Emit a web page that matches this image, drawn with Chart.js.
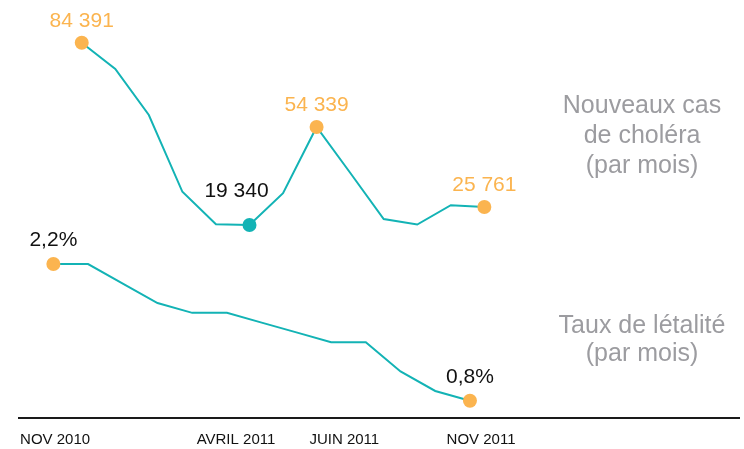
<!DOCTYPE html>
<html>
<head>
<meta charset="utf-8">
<script src="https://cdn.jsdelivr.net/npm/chart.js@4.4.1/dist/chart.umd.min.js"></script>
<style>
  html, body { margin: 0; padding: 0; background: #fff; }
</style>
</head>
<body>
<canvas id="chart" width="744" height="449"></canvas>
<script>
// monthly values, nov 2010 -> nov 2011
const mois = ['nov. 2010', 'déc. 2010', 'janv. 2011', 'févr. 2011', 'mars 2011', 'avr. 2011',
  'mai 2011', 'juin 2011', 'juil. 2011', 'août 2011', 'sept. 2011', 'oct. 2011', 'nov. 2011'];
const nouveauxCas = [84391, 75000, 58600, 31200, 19600, 19340, 30700, 54339, 38000, 21500, 19500, 26400, 25761];
const tauxLetalite = [2.2, 2.2, 2.0, 1.8, 1.7, 1.7, 1.6, 1.5, 1.4, 1.4, 1.1, 0.9, 0.8];
const tickLabels = ['NOV 2010', 'AVRIL 2011', 'JUIN 2011', 'NOV 2011'];
const casMarques = [0, 5, 7, 12];
const tauxMarques = [0, 12];
const legendeCas = ['Nouveaux cas', 'de choléra', '(par mois)'];
const legendeTaux = ['Taux de létalité', '(par mois)'];

const TEAL = '#13b3b5';
const ORANGE = '#fbb44f';
const GREY = '#9c9ca0';
const FONT = '"Liberation Sans", Arial, Helvetica, sans-serif';

const casMin = nouveauxCas.indexOf(Math.min(...nouveauxCas));

function fmtCas(v) {
  return String(v).replace(/\B(?=(\d{3})+(?!\d))/g, ' ');
}
function fmtTaux(v) {
  return v.toFixed(1).replace('.', ',') + '%';
}

// value labels above the highlighted points + side captions
const annotations = {
  id: 'annotations',
  afterDatasetsDraw(chart) {
    const ctx = chart.ctx;
    ctx.save();
    ctx.textAlign = 'center';
    ctx.textBaseline = 'alphabetic';
    ctx.font = '21px ' + FONT;

    const cas = chart.getDatasetMeta(0).data;
    casMarques.forEach(i => {
      const p = cas[i];
      if (i === casMin) {
        ctx.fillStyle = '#111';
        ctx.fillText(fmtCas(nouveauxCas[i]), p.x - 13, p.y - 28);
      } else {
        ctx.fillStyle = ORANGE;
        ctx.fillText(fmtCas(nouveauxCas[i]), p.x, p.y - 16);
      }
    });

    const taux = chart.getDatasetMeta(1).data;
    ctx.fillStyle = '#111';
    tauxMarques.forEach(i => {
      const p = taux[i];
      ctx.fillText(fmtTaux(tauxLetalite[i]), p.x, p.y - 18);
    });

    // captions on the right
    ctx.fillStyle = GREY;
    ctx.font = '25px ' + FONT;
    legendeCas.forEach((t, k) => ctx.fillText(t, 642, 113 + k * 30));
    legendeTaux.forEach((t, k) => ctx.fillText(t, 642, 333 + k * 28));
    ctx.restore();
  }
};

new Chart(document.getElementById('chart'), {
  type: 'line',
  data: {
    labels: mois,
    datasets: [
      {
        label: 'Nouveaux cas de choléra',
        data: nouveauxCas.map((v, i) => ({ x: i, y: v })),
        xAxisID: 'xCas',
        yAxisID: 'yCas',
        borderColor: TEAL,
        borderWidth: 2,
        tension: 0,
        pointRadius: c => casMarques.includes(c.dataIndex) ? 7 : 0,
        pointBackgroundColor: c => c.dataIndex === casMin ? TEAL : ORANGE,
        pointBorderWidth: 0
      },
      {
        label: 'Taux de létalité',
        data: tauxLetalite.map((v, i) => ({ x: i, y: v })),
        xAxisID: 'xTaux',
        yAxisID: 'yTaux',
        borderColor: TEAL,
        borderWidth: 2,
        tension: 0,
        pointRadius: c => tauxMarques.includes(c.dataIndex) ? 7 : 0,
        pointBackgroundColor: ORANGE,
        pointBorderWidth: 0
      }
    ]
  },
  options: {
    responsive: false,
    animation: false,
    clip: false,
    layout: { autoPadding: false, padding: { left: 19, right: 5, top: 0, bottom: 0 } },
    plugins: {
      legend: { display: false },
      tooltip: { enabled: false }
    },
    scales: {
      xCas: { type: 'linear', display: false, min: -1.87, max: 19.59 },
      xTaux: { type: 'linear', display: false, min: -0.99, max: 19.75 },
      yCas: { type: 'linear', display: false, min: -49516, max: 99626 },
      yTaux: { type: 'linear', display: false, min: 0.623, max: 4.904 },
      xAxe: {
        type: 'linear',
        position: 'bottom',
        min: -0.99,
        max: 19.75,
        grid: { display: false, drawTicks: false },
        border: { display: true, color: '#1a1a1a', width: 2 },
        afterBuildTicks: s => { s.ticks = [0.05, 5.26, 8.38, 12.32].map(v => ({ value: v })); },
        afterFit: s => { s.height = 31; },
        ticks: {
          autoSkip: false,
          maxRotation: 0,
          padding: 13,
          color: '#111',
          font: { family: FONT, size: 15 },
          callback: (v, i) => tickLabels[i]
        }
      }
    }
  },
  plugins: [annotations]
});
</script>
</body>
</html>
